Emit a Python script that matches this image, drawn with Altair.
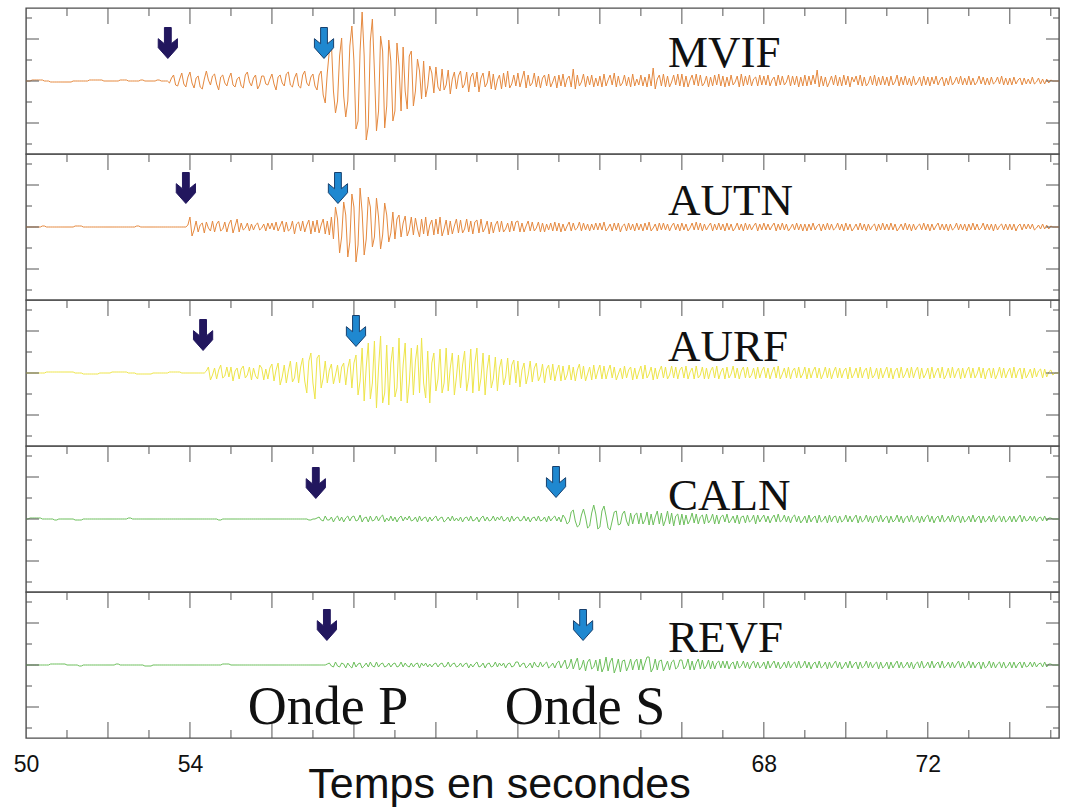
import altair as alt
import pandas as pd

# Seismograms of five stations. Each row holds one second of samples,
# 0.05 s apart, starting at 50 s (amplitude in counts, positive up).
STATIONS = ["MVIF", "AUTN", "AURF", "CALN", "REVF"]
TRACE_COLORS = ["#E5893F", "#E5893F", "#EEE54A", "#6DBF5C", "#6DBF5C"]
T0, DT = 50, 0.05

MVIF = [
    [0, 0, 0, 1, 1, 1, 1, 1, 1, 0, 0, 0, -1, -1, -1, -1, -1, -1, -1, -1],
    [-1, -1, -1, 0, 0, 0, 0, 0, 0, 0, 0, 1, 1, 1, 1, 1, 1, 1, 0, 0],
    [0, 0, 0, 0, 0, 0, 1, 1, 1, 1, 0, 0, 0, 0, 0, 0, 1, 1, 0, 0],
    [0, 0, 0, 0, 1, 1, 0, 0, 0, 0, -2, 3, 6, -4, -5, 2, 8, -3, -6, 4],
    [9, -2, -7, 3, 5, -6, -8, 2, 10, 1, -4, 5, 7, -3, -9, 4, 6, -2, -5, 3],
    [8, -4, -6, 2, 4, -5, -7, 6, 9, -1, -5, 3, 6, -8, -4, 5, 5, -3, -4, 2],
    [7, -3, -9, 4, 6, -2, -5, 7, 9, -4, -6, 3, 8, -5, -7, 6, 10, -2, -5, 4],
    [7, -5, -9, 6, 10, -14, -22, 8, 30, 38, -10, -32, -20, 25, 43, -15, -36, -20, 35, 55],
    [20, -48, -40, 30, 69, 25, -59, -45, 40, 62, 10, -50, -30, 45, 30, -47, -25, 41, 20, -40],
    [-30, 38, 15, -30, 34, -10, -28, 25, 30, -25, -10, 22, 10, -18, 20, -16, -5, 15, 8, -12],
    [14, -6, -10, 12, -9, -4, 11, -13, 2, 9, -8, 5, 10, -7, -3, 9, -11, 4, 8, -6],
    [9, -11, 3, 8, -6, -2, 10, -8, 7, -9, 1, 6, -8, 8, -6, 10, -7, -3, 6, -5],
    [8, -6, 2, 10, -7, 6, -5, -2, 8, -6, 5, -7, 3, 6, -5, 7, -6, -1, 5, -7],
    [6, -5, 7, -6, 2, 5, -6, 12, -8, 6, -5, -1, 7, -6, 5, -4, 6, -6, 3, -5],
    [5, -6, 7, -5, 1, 6, -4, 8, -6, 5, -5, -2, 6, -5, 4, -6, 7, -5, 2, -4],
    [6, -5, 4, -6, 7, -5, 13, -8, 2, 6, -5, 7, -6, 5, -6, -1, 6, -4, 7, -5],
    [7, -6, 5, -6, 1, 6, -4, 7, -5, 6, -5, -2, 5, -6, 4, -5, 6, -4, 7, -5],
    [5, -6, 4, -5, 6, -4, -1, 5, -6, 7, -5, 5, -4, 6, -5, 2, 4, -5, 6, -4],
    [5, -4, 6, -5, 1, 4, -5, 6, -4, 5, -4, -1, 6, -5, 5, -4, 5, -6, 4, -5],
    [6, -5, 5, -4, 6, -3, 11, -6, 5, -5, 4, -6, -1, 5, -4, 6, -5, 4, -5, 6],
    [-4, 5, -6, 4, -1, 5, -4, 6, -5, 4, -5, -2, 5, -4, 6, -5, 4, -4, 5, -4],
    [4, -5, 5, -4, -1, 6, -5, 4, -4, 5, -4, 3, -5, 5, -4, -1, 4, -5, 5, -4],
    [4, -5, 4, -3, 5, -4, 1, 4, -5, 3, -4, 5, -4, -1, 4, -3, 5, -4, 3, -4],
    [5, -4, 3, -4, -1, 5, -3, 4, -4, 3, -4, 4, -3, -1, 4, -3, 5, -4, 3, -4],
    [3, -4, 4, -3, 1, 3, -4, 3, -3, 2, -3, 4, -3, -1, 3, -3, 2, -3, 2, -2],
    [1, 0, 0, 0, 0],
]

AUTN = [
    [0, 0, 0, 0, 0, 0, 0, 0, 1, 1, 0, 0, 0, 0, 0, 0, 0, 0, 0, 0],
    [0, 0, 0, 0, 1, 1, 1, 1, 0, 0, 0, 0, 0, 0, 0, 0, 0, 0, 0, 0],
    [0, 0, 0, 0, 0, 0, 0, 0, 0, 0, 0, 0, 0, 0, 1, 1, 0, 0, 0, 0],
    [0, 0, 0, 0, 0, 0, 0, 0, 0, 0, 0, 0, 0, 0, 0, 0, 0, 0, 0, 2],
    [10, -9, -3, 6, -5, 2, 4, -6, 5, -1, -4, 6, -5, 3, 6, -4, -2, 5, -5, 3],
    [7, -6, 1, 8, -5, 4, -3, -1, 4, -4, 3, -3, 2, 4, -3, -1, 3, -4, 4, -2],
    [4, -3, 5, -4, 1, 6, -5, 5, -4, -2, 6, -7, 3, 5, -4, 6, -5, 2, 7, -7],
    [6, -5, 7, -6, 2, 8, -7, 6, -8, 10, -12, 20, 8, -26, -10, 25, 12, -30, -15, 33],
    [20, -35, -18, 39, 15, -28, -12, 30, 20, -20, -10, 29, 10, -22, -8, 24, 12, -15, -6, 15],
    [-12, 8, 12, -10, 4, 11, -9, -3, 10, -8, 9, -2, -10, 8, -7, 10, -9, 2, 7, -8],
    [8, -7, 10, -9, -2, 7, -8, 6, -7, 1, 8, -6, 7, -6, -2, 8, -5, 6, -7, 5],
    [7, -6, 8, -5, -1, 6, -7, 5, -6, 2, 6, -5, 6, -5, -2, 4, -5, 6, -4, 5],
    [6, -5, 4, -5, 1, 6, -4, 5, -4, -1, 5, -5, 4, -5, 3, -3, 4, -4, 5, -4],
    [4, -5, 3, -4, 1, 5, -4, 4, -3, -1, 5, -4, 4, -3, 3, -4, 3, -3, 4, -3],
    [4, -3, 5, -4, -1, 3, -4, 4, -3, 4, -5, 1, 3, -4, 4, -3, 3, -4, 4, -3],
    [3, -4, 4, -3, 5, -4, -1, 3, -4, 4, -3, 4, -3, 3, -4, 1, 4, -3, 3, -4],
    [4, -3, 3, -4, -1, 4, -3, 5, -3, 4, -4, 3, -3, 1, 4, -4, 3, -3, 4, -3],
    [3, -4, 4, -3, 3, -4, -1, 4, -3, 3, -4, 4, -3, 3, -3, 1, 4, -4, 3, -3],
    [4, -3, 3, -3, 1, 4, -4, 3, -3, 4, -3, 3, -4, -1, 3, -3, 4, -3, 3, -4],
    [3, -4, 3, -3, 4, -3, 1, 3, -4, 3, -3, 4, -3, 3, -3, -1, 4, -3, 3, -4],
    [4, -3, 3, -4, -1, 3, -3, 4, -3, 3, -4, 3, -3, 1, 3, -4, 3, -3, 4, -3],
    [3, -3, 4, -3, 3, -4, -1, 3, -3, 4, -3, 3, -4, 3, -3, 1, 3, -3, 4, -3],
    [3, -4, 3, -3, 1, 4, -3, 3, -3, 3, -4, 3, -3, -1, 4, -3, 3, -3, 3, -4],
    [3, -3, 4, -3, 3, -3, -1, 4, -3, 3, -3, 3, -4, 3, -3, 1, 3, -3, 3, -3],
    [3, -3, 3, -4, 1, 3, -3, 3, -2, 3, -2, 3, -3, -1, 2, -2, 3, -2, 2, -2],
    [1, 0, 0, 0, 0],
]

AURF = [
    [0, 0, 0, 0, 0, 0, 0, 0, 0, 0, 1, 1, 1, 1, 1, 1, 1, 1, 1, 1],
    [1, 1, 1, 1, 0, 0, 0, 0, -1, -1, -1, -1, -1, -1, -1, -1, 0, 0, 0, 0],
    [0, 0, 1, 1, 1, 1, 1, 1, 1, 1, 0, 0, 0, 0, -1, -1, -1, -1, -1, -1],
    [-1, -1, 0, 0, 0, 0, 0, 0, 0, 0, 1, 1, 1, 1, 1, 1, 0, 0, 0, 0],
    [0, 0, 0, 0, 0, 0, 0, 0, 2, 6, -7, -2, 5, -6, 3, 8, -5, -3, 6, -4],
    [6, -8, 2, 5, -6, 4, 7, -5, -2, 6, -7, 5, -3, -6, 8, 5, -7, 4, -6, 5],
    [9, -8, 3, 10, -12, -4, 8, -10, 2, 12, -9, -5, 11, -10, 6, 15, -8, -20, 12, 20],
    [-10, -26, 15, 18, -15, -5, 12, -10, 3, 9, -11, -2, 8, -10, 6, 10, -12, 5, 14, -15],
    [10, 18, -22, -8, 25, -28, 6, 30, -26, -10, 32, -35, 5, 37, -30, -20, 28, -32, 10, 26],
    [-24, -15, 35, -28, 8, 30, -30, -10, 25, -22, 12, 28, -20, 35, -10, -25, 22, -30, 10, 20],
    [-18, -6, 24, -20, -10, 25, -18, 5, 20, -22, -4, 18, -15, 8, 22, -18, -5, 24, -20, 10],
    [25, -18, -5, 20, -22, 4, 18, -15, -6, 16, -18, 5, 14, -12, -4, 15, -12, 8, 13, -10],
    [12, -14, 3, 10, -11, -2, 12, -9, 5, 10, -8, -3, 9, -10, 4, 8, -7, 9, -8, 2],
    [8, -8, 7, -7, -2, 8, -7, 6, -8, 3, 9, -6, 7, -8, -1, 6, -7, 8, -6, 2],
    [8, -6, 7, -6, 2, 8, -5, 6, -7, -1, 5, -6, 7, -5, 3, 6, -7, 5, -6, 1],
    [7, -6, 8, -5, -1, 6, -7, 5, -6, 2, 7, -5, 6, -6, -2, 7, -5, 6, -6, 3],
    [6, -5, 7, -6, 1, 5, -6, 7, -5, -2, 6, -6, 5, -6, 2, 6, -5, 7, -6, 1],
    [5, -6, 6, -5, -1, 7, -5, 5, -6, 2, 6, -5, 6, -5, -2, 5, -6, 6, -5, 2],
    [6, -5, 5, -6, 1, 6, -5, 7, -6, -1, 5, -5, 6, -6, 2, 5, -5, 6, -5, -1],
    [6, -6, 5, -5, 2, 6, -5, 5, -6, -1, 6, -5, 5, -6, 1, 6, -5, 5, -5, 2],
    [5, -6, 6, -5, -1, 5, -5, 6, -5, 2, 5, -6, 6, -5, -2, 5, -6, 5, -5, 1],
    [6, -5, 5, -6, 2, 5, -5, 6, -5, -1, 5, -5, 6, -5, 2, 6, -6, 5, -5, -1],
    [5, -6, 6, -5, 1, 5, -5, 6, -6, -2, 5, -5, 6, -5, 1, 5, -6, 5, -5, 2],
    [6, -5, 5, -5, -1, 6, -5, 5, -6, 2, 5, -5, 5, -6, -1, 6, -5, 5, -5, 1],
    [5, -5, 6, -5, 2, 5, -6, 5, -5, -1, 4, -5, 5, -4, 2, 4, -5, 4, -4, 1],
    [3, -2, 0, 0, 0],
]

CALN = [
    [0, 0, 1, 1, 1, 1, 1, 1, 0, 0, 0, 0, 0, 0, -1, -1, 0, 0, 0, 0],
    [0, 0, 0, 0, -1, -1, -1, -1, 0, 0, 0, 0, 0, 0, 0, 0, 0, 0, 0, 0],
    [0, 0, 0, 0, 0, 0, 0, 0, 0, 0, 1, 1, 0, 0, 0, 0, 0, 0, 0, 0],
    [0, 0, 0, 0, 0, 0, 0, 0, 0, 0, 0, 0, 0, 0, 0, 0, 0, 0, 0, 0],
    [0, 0, 0, 0, 0, 0, 0, 0, 0, 0, 0, 0, 0, 0, -1, -1, 0, 0, 0, 0],
    [0, 0, 0, 0, 0, 0, 0, 0, 0, 0, 0, 0, 0, 0, 0, 0, 0, 0, 0, 0],
    [0, 0, 0, 0, 0, 0, 0, 0, 0, 0, 0, 0, 0, 0, 0, 0, 0, 0, -1, -1],
    [0, 0, 1, 2, -1, -2, 3, -1, -1, 2, -3, 1, 3, -2, 2, -3, 1, 3, -2, 2],
    [3, -2, -1, 4, -3, 1, 2, -3, 3, -2, -1, 3, -2, 2, 4, -3, 1, -2, 3, -2],
    [2, -3, 1, 3, -2, 2, -1, 3, -2, -1, 2, -3, 3, -2, 1, 2, -3, 2, -2, 1],
    [3, -2, 1, 2, -3, -1, 2, -2, 3, -2, 1, -2, 2, -3, 1, 2, -2, 3, -2, -1],
    [2, -3, 1, 3, -2, 2, -2, -1, 3, -2, 2, -1, 3, -2, -1, 2, -3, 3, -2, 1],
    [2, -2, -1, 3, -2, 2, -3, 1, 2, -2, 3, -2, -1, 2, -3, 3, -2, 1, 3, -2],
    [2, -3, 4, 1, -5, -3, 7, 9, -2, -8, -6, 4, 10, 2, -9, -7, 6, 14, 5, -10],
    [-8, 8, 13, 3, -9, -11, -2, 7, 8, -6, -5, 5, 8, -2, -7, 6, -5, 4, 6, -5],
    [6, -5, -1, 7, -6, 5, -6, 2, 8, -5, 6, -7, -1, 8, -5, 6, -7, 3, 5, -6],
    [5, -6, 4, -5, -1, 6, -4, 5, -5, 2, 4, -5, 5, -4, -1, 5, -5, 4, -5, 2],
    [4, -3, 5, -4, -1, 3, -4, 4, -5, 2, 3, -4, 4, -3, -1, 4, -5, 4, -3, 1],
    [4, -3, 3, -4, 1, 4, -3, 5, -3, -1, 4, -3, 3, -4, 2, 4, -3, 3, -4, -1],
    [3, -4, 4, -3, 1, 3, -4, 4, -3, -1, 3, -4, 4, -3, 2, 3, -4, 3, -3, -1],
    [4, -3, 3, -3, 1, 4, -4, 3, -3, -1, 4, -3, 3, -4, 2, 3, -3, 4, -3, 1],
    [3, -4, 3, -3, -1, 4, -3, 3, -4, 1, 3, -3, 4, -3, -1, 3, -4, 3, -3, 2],
    [4, -3, 3, -4, 1, 3, -3, 4, -3, -1, 3, -3, 4, -3, 2, 3, -4, 3, -3, -1],
    [3, -3, 4, -3, 1, 3, -4, 3, -3, -1, 3, -3, 4, -3, 1, 3, -3, 3, -3, -1],
    [3, -3, 3, -3, 1, 4, -3, 3, -2, -1, 3, -2, 3, -3, 1, 2, -2, 3, -2, 1],
    [1, 0, 0, 0, 0],
]

REVF = [
    [0, 0, 0, 0, 0, 0, 0, 0, 0, 0, 0, 0, 1, 1, 1, 1, 1, 1, 1, 1],
    [0, 0, 0, 0, 0, 0, -1, -1, 0, 0, 0, 0, 0, 0, 0, 0, 0, 0, 0, 0],
    [0, 0, 0, 0, 1, 1, 0, 0, 0, 0, 0, 0, 0, 0, 0, 0, 0, 0, -1, -1],
    [-1, -1, 0, 0, 0, 0, 0, 0, 0, 0, 0, 0, 0, 0, 0, 0, 0, 0, 0, 0],
    [0, 0, 0, 0, 0, 0, 0, 0, 0, 0, 0, 0, 0, 0, 0, 0, 1, 1, 1, 1],
    [0, 0, 0, 0, 0, 0, 0, 0, 0, 0, 0, 0, 0, 0, 0, 0, 0, 0, 0, 0],
    [0, 0, 0, 0, 0, 0, 0, 0, 0, 0, 0, 0, 0, 0, 0, 0, 0, 0, 0, 0],
    [0, 0, 0, 0, 0, 0, 0, 1, 2, -1, -2, 3, -1, -2, 2, 1, -3, 2, -1, -3],
    [3, -2, 1, 2, -3, -1, 2, -2, 3, -1, -2, 3, -2, 1, 2, -2, -1, 2, -2, 1],
    [2, -2, -1, 3, -2, 2, -1, -2, 2, -2, 1, 2, -3, 2, -1, 2, -2, 1, -2, 1],
    [2, -2, 1, 2, -2, -1, 3, -2, 1, 2, -2, -1, 2, -2, 1, 2, -3, 1, -2, 1],
    [3, -2, -1, 2, -3, 1, 2, -2, -1, 3, -2, 2, -1, 2, -3, 1, 2, -2, -1, 3],
    [3, -2, 1, 2, -3, -1, 2, -3, 3, -1, -2, 3, -2, 1, 3, -3, -1, 2, -3, 2],
    [4, -3, 1, 5, -4, -1, 6, -4, 2, 7, -5, -2, 5, -6, 3, 6, -4, -2, 5, -6],
    [6, -7, -2, 8, -6, 3, 7, -8, -2, 6, -7, 4, 5, -6, -1, 6, -5, 3, 6, -5],
    [6, -5, 2, 8, 8, -7, -3, 6, -5, 4, 5, -6, -1, 4, -5, 3, 5, -4, -2, 5],
    [5, -4, -1, 6, -5, 4, -5, 2, 6, -4, 5, -4, -1, 5, -4, 4, -4, 2, 4, -3],
    [4, -3, 4, -4, 1, 3, -4, 4, -3, -1, 4, -3, 3, -4, 1, 4, -3, 3, -3, -1],
    [3, -4, 4, -3, 1, 4, -3, 3, -4, -1, 3, -3, 4, -3, 1, 3, -3, 4, -3, -1],
    [4, -3, 3, -4, 1, 3, -3, 4, -3, -1, 3, -4, 3, -3, 1, 4, -3, 3, -4, -1],
    [3, -3, 4, -3, 1, 3, -4, 3, -3, -1, 4, -3, 3, -3, 1, 3, -4, 3, -3, -1],
    [3, -4, 3, -3, 1, 4, -3, 3, -3, -1, 3, -3, 3, -4, 1, 3, -3, 4, -3, -1],
    [3, -3, 4, -3, 1, 3, -3, 4, -3, -1, 3, -3, 3, -3, 1, 4, -3, 3, -3, -1],
    [4, -3, 3, -3, 1, 3, -4, 3, -3, -1, 4, -3, 3, -3, 1, 3, -3, 3, -3, -1],
    [3, -3, 3, -3, 1, 3, -3, 3, -2, -1, 3, -2, 3, -2, 1, 2, -2, 3, -2, 1],
    [1, 0, 0, 0, 0],
]

TRACES = [MVIF, AUTN, AURF, CALN, REVF]

# Picked arrivals (s) and the height of each arrow above the trace
P_TIMES = [53.46, 53.90, 54.32, 57.07, 57.34]
S_TIMES = [57.27, 57.61, 58.05, 62.93, 63.59]
P_ARROW_Y = [38, 39, 38, 36, 40]
S_ARROW_Y = [38, 39, 42, 37, 40]

# Station name placement
NAME_T = 65.66
NAME_Y = [14, 12, 12, 9, 13]

# Phase captions in the last panel
PHASE_TEXT = ["Onde P", "Onde S"]
PHASE_T = [55.41, 61.68]
PHASE_Y = [-59, -59]

# Axes
X_DOMAIN = [50, 75.2]
Y_DOMAIN = [-73, 73]
X_LABELS = [50, 54, 68, 72]
X_MINOR = [51, 53, 55, 57, 59, 61, 63, 65, 67, 69, 71, 73, 75]
X_MAJOR = [52, 54, 56, 58, 60, 62, 64, 66, 68, 70, 72, 74]
Y_MINOR = [-63, -21, 21, 63]
Y_MAJOR = [-42, 0, 42]

W, H = 1033, 146
FRAME = "#4d4d4d"
TICK = "#555555"
ARROW = "M -0.22 -1 L 0.22 -1 L 0.22 0.05 L 0.62 -0.28 L 0.62 0.3 L 0 1 L -0.62 0.3 L -0.62 -0.28 L -0.22 0.05 Z"

xs = alt.Scale(domain=X_DOMAIN, nice=False, zero=False)
ys = alt.Scale(domain=Y_DOMAIN, nice=False, zero=False)


def trace_frame(rows):
    t, amp = [], []
    for k, row in enumerate(rows):
        for j, v in enumerate(row):
            t.append(round(T0 + k + DT * j, 3))
            amp.append(v)
    return pd.DataFrame({"t": t, "amp": amp})


def tick_layers(last):
    minor = pd.DataFrame({"t": X_MINOR})
    major = pd.DataFrame({"t": X_MAJOR})
    yminor = pd.DataFrame({"v": Y_MINOR})
    ymajor = pd.DataFrame({"v": Y_MAJOR})
    rule = dict(color=TICK, strokeWidth=1)
    layers = [
        alt.Chart(minor).mark_rule(**rule).encode(
            x=alt.X("t:Q", scale=xs), y=alt.value(0), y2=alt.value(8)),
        alt.Chart(major).mark_rule(**rule).encode(
            x=alt.X("t:Q", scale=xs), y=alt.value(0), y2=alt.value(16)),
        alt.Chart(yminor).mark_rule(**rule).encode(
            y=alt.Y("v:Q", scale=ys), x=alt.value(0), x2=alt.value(6)),
        alt.Chart(ymajor).mark_rule(**rule).encode(
            y=alt.Y("v:Q", scale=ys), x=alt.value(0), x2=alt.value(13)),
        alt.Chart(yminor).mark_rule(**rule).encode(
            y=alt.Y("v:Q", scale=ys), x=alt.value(W), x2=alt.value(W - 6)),
        alt.Chart(ymajor).mark_rule(**rule).encode(
            y=alt.Y("v:Q", scale=ys), x=alt.value(W), x2=alt.value(W - 13)),
    ]
    if last:
        layers += [
            alt.Chart(minor).mark_rule(**rule).encode(
                x=alt.X("t:Q", scale=xs), y=alt.value(H), y2=alt.value(H - 8)),
            alt.Chart(major).mark_rule(**rule).encode(
                x=alt.X("t:Q", scale=xs), y=alt.value(H), y2=alt.value(H - 16)),
        ]
    return layers


def panel(i):
    last = i == len(STATIONS) - 1
    trace = trace_frame(TRACES[i])
    if last:
        x_axis = alt.Axis(
            values=X_LABELS, format="d", ticks=False, tickSize=0, domain=False, grid=False,
            labelFont="Liberation Sans", labelFontSize=23, labelColor="#111111",
            labelPadding=26, labelBaseline="middle", labelFlush=False,
            title="Temps en secondes", titleFont="Liberation Sans", titleFontSize=43,
            titleFontWeight="normal", titleColor="#111111", titleX=473, titleY=59,
            titleAlign="center", titleBaseline="alphabetic",
        )
    else:
        x_axis = None

    # the trace layer comes first so that its axis settings govern the panel
    line = alt.Chart(trace).mark_line(color=TRACE_COLORS[i], strokeWidth=1).encode(
        x=alt.X("t:Q", scale=xs, axis=x_axis),
        y=alt.Y("amp:Q", scale=ys, axis=None),
        order="t:Q",
    )

    arrows = pd.DataFrame({
        "t": [P_TIMES[i], S_TIMES[i]],
        "y": [P_ARROW_Y[i], S_ARROW_Y[i]],
        "phase": ["P", "S"],
    })
    arrow_marks = alt.Chart(arrows).mark_point(
        shape=ARROW, filled=True, size=960, strokeWidth=1, opacity=1
    ).encode(
        x=alt.X("t:Q", scale=xs),
        y=alt.Y("y:Q", scale=ys),
        fill=alt.Fill("phase:N", scale=alt.Scale(domain=["P", "S"], range=["#22175E", "#1F88D0"]), legend=None),
        stroke=alt.Stroke("phase:N", scale=alt.Scale(domain=["P", "S"], range=["#22175E", "#17406E"]), legend=None),
    )

    name = pd.DataFrame({"t": [NAME_T], "y": [NAME_Y[i]], "name": [STATIONS[i]]})
    name_mark = alt.Chart(name).mark_text(
        align="left", baseline="alphabetic", font="Liberation Serif", fontSize=45, color="#111111"
    ).encode(
        x=alt.X("t:Q", scale=xs),
        y=alt.Y("y:Q", scale=ys),
        text="name:N",
    )

    layers = [line] + tick_layers(last) + [arrow_marks, name_mark]
    if last:
        phases = pd.DataFrame({"t": PHASE_T, "y": PHASE_Y, "label": PHASE_TEXT})
        layers.append(alt.Chart(phases).mark_text(
            align="left", baseline="alphabetic", font="Liberation Serif", fontSize=54, color="#111111"
        ).encode(
            x=alt.X("t:Q", scale=xs),
            y=alt.Y("y:Q", scale=ys),
            text="label:N",
        ))
    return alt.layer(*layers).properties(width=W, height=H)


chart = alt.vconcat(
    *[panel(i) for i in range(len(STATIONS))], spacing=0, bounds="flush"
).properties(
    padding={"left": 12, "top": 6, "right": 0, "bottom": 0},
    autosize=alt.AutoSizeParams(type="pad"),
    background="white",
).configure_view(
    stroke=FRAME, strokeWidth=1.4
)

chart.save("out.html", embed_options={"renderer": "svg", "actions": False})
